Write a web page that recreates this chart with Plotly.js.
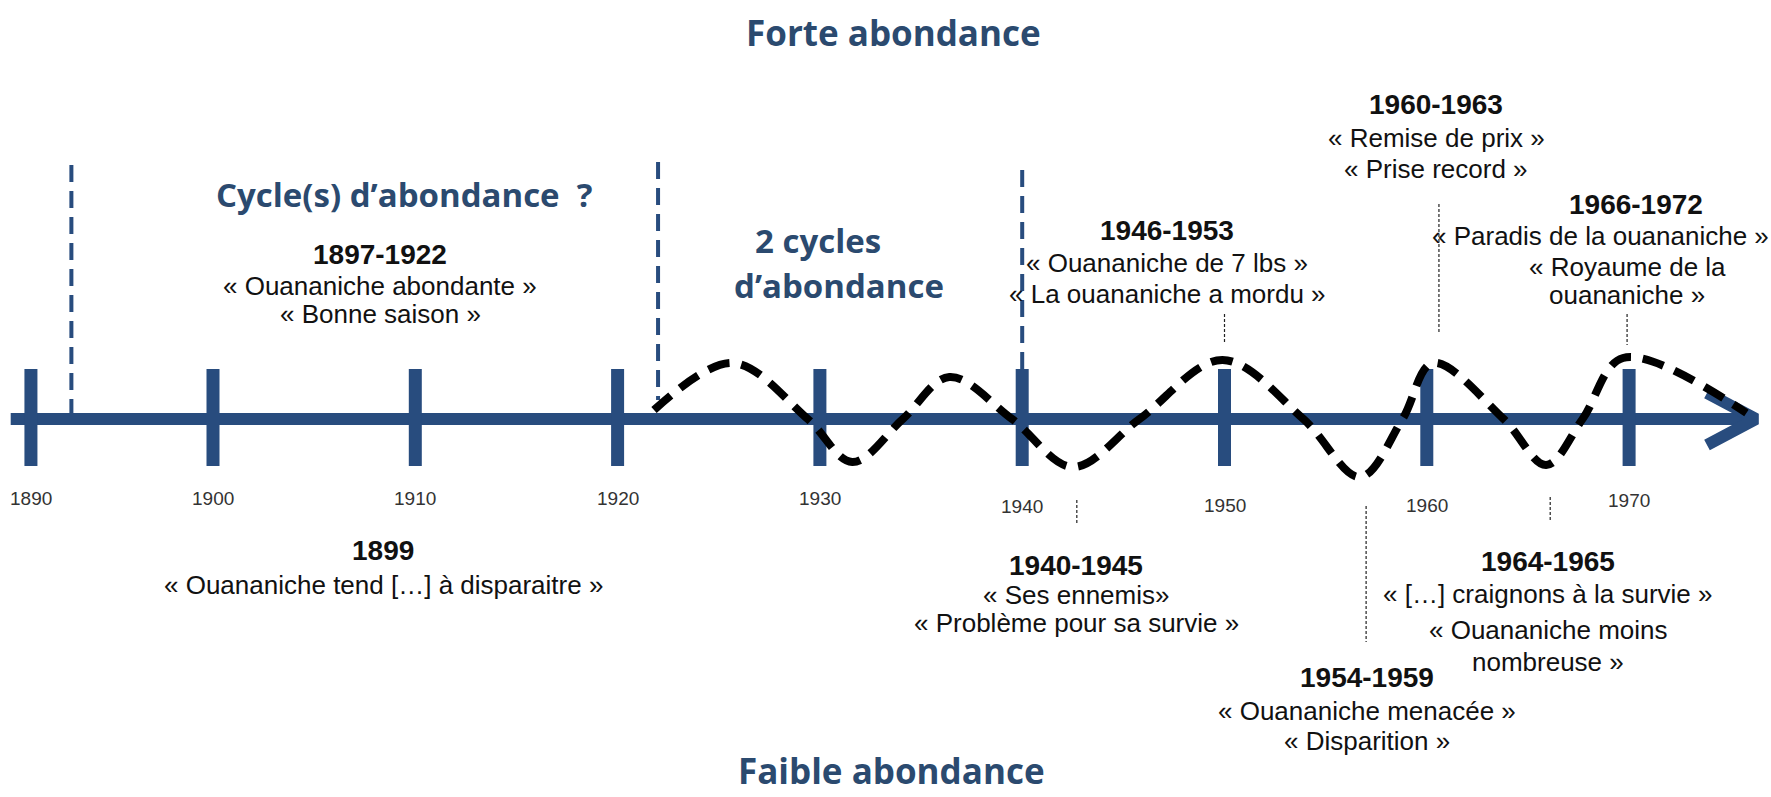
<!DOCTYPE html>
<html>
<head>
<meta charset="utf-8">
<script src="https://cdn.plot.ly/plotly-3.0.1.min.js"></script>
<style>
  html, body { margin: 0; padding: 0; background: #ffffff; }
  #chart { width: 1771px; height: 797px; }
</style>
</head>
<body>
<div id="chart"></div>
<script>
// ---------------- DATA ----------------
// Timeline ticks: labels and the year at which each tick is drawn
const tickLabels = ['1890', '1900', '1910', '1920', '1930', '1940', '1950', '1960', '1970'];
const tickYears  = [1891, 1900, 1910, 1920, 1930, 1940, 1950, 1960, 1970];

// Period separators (dashed blue verticals)
const separatorYears = [1893, 1922, 1940];

// Abundance wave (relative level, 0 = timeline)
const waveYears  = [1921.8, 1925.7, 1929.4, 1931.6, 1934.1, 1936.4, 1939.5, 1942.5, 1945.8, 1949.9, 1953.9, 1956.7, 1958.8, 1960.3, 1963.8, 1965.9, 1967.7, 1969.7, 1975.8];
const waveLevels = [9,      56,     0,      -43,    0,      42,     0,      -48,    0,      59,     0,      -58,    0,      56,     0,      -46,    0,      61,     6];

// Periods headers (blue)
const periodTitles = ['Cycle(s) d\u2019abondance\u00a0 ?', '2 cycles', 'd\u2019abondance'];
const axisTitles   = ['Forte abondance', 'Faible abondance'];

// Events: date range + quotes
const eventDates  = ['1897-1922', '1899', '1940-1945', '1946-1953', '1954-1959', '1960-1963', '1964-1965', '1966-1972'];
const eventQuotes = [
  ['\u00ab Ouananiche abondante \u00bb', '\u00ab Bonne saison \u00bb'],
  ['\u00ab Ouananiche tend [\u2026] \u00e0 disparaitre \u00bb'],
  ['\u00ab Ses ennemis\u00bb', '\u00ab Probl\u00e8me pour sa survie \u00bb'],
  ['\u00ab Ouananiche de 7 lbs \u00bb', '\u00ab La ouananiche a mordu \u00bb'],
  ['\u00ab Ouananiche menac\u00e9e \u00bb', '\u00ab Disparition \u00bb'],
  ['\u00ab Remise de prix \u00bb', '\u00ab Prise record \u00bb'],
  ['\u00ab [\u2026] craignons \u00e0 la survie \u00bb', '\u00ab Ouananiche moins', 'nombreuse \u00bb'],
  ['\u00ab Paradis de la ouananiche \u00bb', '\u00ab Royaume de la', 'ouananiche \u00bb']
];
// Year each event's pointer marks on the timeline
const eventPointerYears = [null, null, 1942.7, 1950, 1957.0, 1960.6, 1966.1, 1969.9];

// ---------------- LAYOUT / STYLE ----------------
const W = 1771, H = 797;
const PX_PER_YEAR = 20.23, X1900 = 213, AXIS_Y = 419;
const yr = px => 1900 + (px - X1900) / PX_PER_YEAR;   // pixel column -> year
const lv = py => AXIS_Y - py;                          // pixel row -> level

const BLUE = '#284c7e';
const HEAD_BLUE = '#2b4a6f';
const TXT = '#111111';

// placement of text blocks (pixel centre x, centre y of each line)
const eventPlacement = [
  {x: 380,  lines: [254, 286, 314]},
  {x: 383,  lines: [550, 585]},
  {x: 1076, lines: [565, 595, 623]},
  {x: 1167, lines: [230, 263, 294]},
  {x: 1367, lines: [677, 711, 741]},
  {x: 1436, lines: [104, 138, 169]},
  {x: 1548, lines: [561, 594, 630, 662]},
  {x: 1636, lines: [204, 236, 267, 295], xs: [1636, 1600, 1627, 1627]}
];
const pointerSpan = [null, null, [500, 525], [314, 342], [506, 642], [204, 334], [497, 522], [314, 345]];
const separatorSpan = [[165, 413], [162, 400], [170, 370]];
const tickLabelRow = [498, 498, 498, 498, 498, 506, 505, 505, 500];

const traces = [];

// separators
{
  const xs = [], ys = [];
  separatorYears.forEach((y, i) => { xs.push(y, y, null); ys.push(lv(separatorSpan[i][0]), lv(separatorSpan[i][1]), null); });
  traces.push({x: xs, y: ys, mode: 'lines', line: {color: BLUE, width: 4, dash: '17px,9px'}, hoverinfo: 'skip'});
}
// timeline axis
traces.push({x: [1890, yr(1752)], y: [0, 0], mode: 'lines', line: {color: BLUE, width: 12}, hoverinfo: 'skip'});
traces.push({x: [yr(1707), yr(1756), yr(1707)], y: [lv(393), 0, lv(445)], mode: 'lines',
  line: {color: BLUE, width: 12}, hoverinfo: 'skip'});
// ticks
{
  const xs = [], ys = [];
  tickYears.forEach(t => { xs.push(t, t, null); ys.push(lv(369), lv(466), null); });
  traces.push({x: xs, y: ys, mode: 'lines', line: {color: BLUE, width: 13}, hoverinfo: 'skip'});
}
// pointers
{
  const xs = [], ys = [];
  eventPointerYears.forEach((p, i) => { if (p === null) return; xs.push(p, p, null); ys.push(lv(pointerSpan[i][0]), lv(pointerSpan[i][1]), null); });
  traces.push({x: xs, y: ys, mode: 'lines', line: {color: '#222', width: 1.2, dash: '3px,2px'}, hoverinfo: 'skip'});
}
// wave
traces.push({x: waveYears, y: waveLevels, mode: 'lines', line: {color: '#000', width: 8, dash: '22px,12px', shape: 'spline', smoothing: 1},
  hoverinfo: 'skip'});

const annotations = [];
const ann = (xpx, ypx, text, font, extra) => annotations.push(Object.assign({
  x: yr(xpx), y: lv(ypx), xref: 'x', yref: 'y', text: text, showarrow: false,
  xanchor: 'center', yanchor: 'middle', font: font
}, extra || {}));

const headFont = {family: '"Open Sans", Lato, sans-serif', size: 35, color: HEAD_BLUE, weight: 700};
ann(893, 32, '<b>' + axisTitles[0] + '</b>', headFont);
ann(891, 770, '<b>' + axisTitles[1] + '</b>', headFont);
ann(404, 194, '<b>' + periodTitles[0] + '</b>', Object.assign({}, headFont, {size: 33}));
ann(818, 240, '<b>' + periodTitles[1] + '</b>', Object.assign({}, headFont, {size: 33}));
ann(839, 285, '<b>' + periodTitles[2] + '</b>', Object.assign({}, headFont, {size: 33}));

const dateFont = {family: '"Liberation Sans", Arial, sans-serif', size: 28, color: TXT};
const quoteFont = {family: '"Liberation Sans", Arial, sans-serif', size: 26, color: TXT};
eventDates.forEach((d, i) => {
  const p = eventPlacement[i];
  const xs = p.xs || [];
  ann(xs[0] || p.x, p.lines[0], '<b>' + d + '</b>', dateFont);
  eventQuotes[i].forEach((q, j) => ann(xs[j + 1] || p.x, p.lines[j + 1], q, quoteFont));
});

const tickFont = {family: '"Liberation Sans", Arial, sans-serif', size: 19, color: '#333333'};
tickLabels.forEach((t, i) => annotations.push({
  x: tickYears[i], y: lv(tickLabelRow[i]), xref: 'x', yref: 'y', text: t, showarrow: false,
  xanchor: 'center', yanchor: 'middle', font: tickFont
}));

const layout = {
  width: W, height: H,
  margin: {l: 0, r: 0, t: 0, b: 0},
  paper_bgcolor: '#ffffff', plot_bgcolor: '#ffffff',
  showlegend: false,
  xaxis: {range: [yr(0), yr(W)], visible: false, fixedrange: true},
  yaxis: {range: [lv(H), lv(0)], visible: false, fixedrange: true},
  annotations: annotations
};

Plotly.newPlot('chart', traces, layout, {displayModeBar: false, staticPlot: true});
</script>
</body>
</html>
